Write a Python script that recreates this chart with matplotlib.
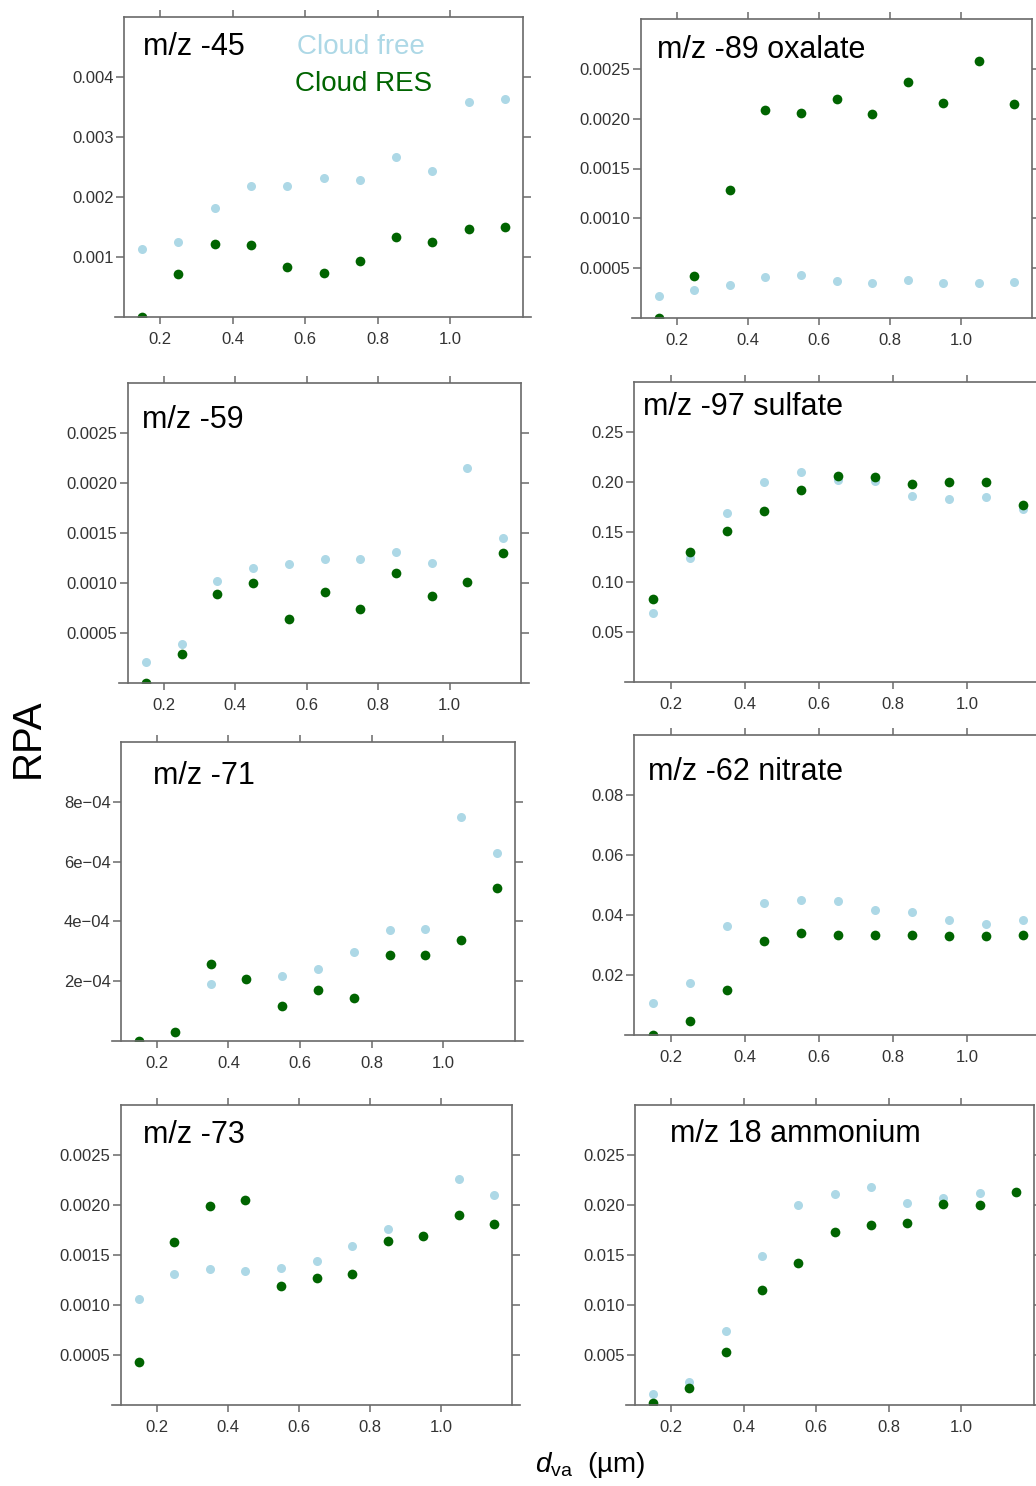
import numpy as np
import matplotlib
matplotlib.use("Agg")
import matplotlib.pyplot as plt

plt.rcParams["font.family"] = ["Liberation Sans", "DejaVu Sans"]
plt.rcParams["mathtext.fontset"] = "custom"
plt.rcParams["mathtext.rm"] = "Liberation Sans"
plt.rcParams["mathtext.it"] = "Liberation Sans:italic"

# size bins (dva, um)
dva = [0.15, 0.25, 0.35, 0.45, 0.55, 0.65, 0.75, 0.85, 0.95, 1.05, 1.15]

titles = ["m/z -45", "m/z -89 oxalate", "m/z -59", "m/z -97 sulfate",
          "m/z -71", "m/z -62 nitrate", "m/z -73", "m/z 18 ammonium"]

free_45 = [0.00113, 0.00125, 0.00182, 0.00218, 0.00218, 0.00231, 0.00228, 0.00266, 0.00243, 0.00359, 0.00364]
res_45 = [0.0, 0.00071, 0.00122, 0.00120, 0.00084, 0.00074, 0.00093, 0.00134, 0.00125, 0.00146, 0.00150]

free_89 = [0.00022, 0.00028, 0.00033, 0.00041, 0.00043, 0.00037, 0.00035, 0.00038, 0.00035, 0.00035, 0.00036]
res_89 = [0.0, 0.00042, 0.00128, 0.00209, 0.00206, 0.00220, 0.00205, 0.00237, 0.00216, 0.00258, 0.00215]

free_59 = [0.00021, 0.00039, 0.00102, 0.00115, 0.00119, 0.00124, 0.00124, 0.00131, 0.00120, 0.00215, 0.00145]
res_59 = [0.0, 0.00029, 0.00089, 0.00100, 0.00064, 0.00091, 0.00074, 0.00110, 0.00087, 0.00101, 0.00130]

free_97 = [0.069, 0.124, 0.169, 0.200, 0.210, 0.202, 0.201, 0.186, 0.183, 0.185, 0.173]
res_97 = [0.083, 0.130, 0.151, 0.171, 0.192, 0.206, 0.205, 0.198, 0.200, 0.200, 0.177]

free_71 = [0.0, 0.000029, 0.000189, 0.000208, 0.000217, 0.000240, 0.000299, 0.000372, 0.000375, 0.000748, 0.000629]
res_71 = [0.0, 0.000029, 0.000257, 0.000208, 0.000116, 0.000169, 0.000143, 0.000287, 0.000287, 0.000339, 0.000512]

free_62 = [0.0107, 0.0175, 0.0363, 0.0440, 0.0449, 0.0447, 0.0416, 0.0410, 0.0383, 0.0369, 0.0384]
res_62 = [0.0, 0.0046, 0.0149, 0.0315, 0.0340, 0.0334, 0.0334, 0.0335, 0.0330, 0.0329, 0.0335]

free_73 = [0.00106, 0.00131, 0.00136, 0.00134, 0.00137, 0.00144, 0.00159, 0.00176, 0.00169, 0.00226, 0.00210]
res_73 = [0.00043, 0.00163, 0.00199, 0.00205, 0.00119, 0.00127, 0.00131, 0.00164, 0.00169, 0.00190, 0.00181]

free_18 = [0.00107, 0.0023, 0.00737, 0.0149, 0.0200, 0.0211, 0.0218, 0.0202, 0.0207, 0.0212, 0.0213]
res_18 = [0.00017, 0.00167, 0.00533, 0.01153, 0.0142, 0.01727, 0.01803, 0.01817, 0.02007, 0.02003, 0.02133]

free_all = [free_45, free_89, free_59, free_97, free_71, free_62, free_73, free_18]
res_all = [res_45, res_89, res_59, res_97, res_71, res_62, res_73, res_18]

y_tops = [0.005, 0.003, 0.003, 0.30, 0.001, 0.10, 0.003, 0.030]
y_ticks = [
    [0.001, 0.002, 0.003, 0.004],
    [0.0005, 0.001, 0.0015, 0.002, 0.0025],
    [0.0005, 0.001, 0.0015, 0.002, 0.0025],
    [0.05, 0.10, 0.15, 0.20, 0.25],
    [2e-4, 4e-4, 6e-4, 8e-4],
    [0.02, 0.04, 0.06, 0.08],
    [0.0005, 0.001, 0.0015, 0.002, 0.0025],
    [0.005, 0.010, 0.015, 0.020, 0.025],
]
y_labels = [
    ["0.001", "0.002", "0.003", "0.004"],
    ["0.0005", "0.0010", "0.0015", "0.0020", "0.0025"],
    ["0.0005", "0.0010", "0.0015", "0.0020", "0.0025"],
    ["0.05", "0.10", "0.15", "0.20", "0.25"],
    ["2e\u221204", "4e\u221204", "6e\u221204", "8e\u221204"],
    ["0.02", "0.04", "0.06", "0.08"],
    ["0.0005", "0.0010", "0.0015", "0.0020", "0.0025"],
    ["0.005", "0.010", "0.015", "0.020", "0.025"],
]
x_ticks = [0.2, 0.4, 0.6, 0.8, 1.0]
x_labels = ["0.2", "0.4", "0.6", "0.8", "1.0"]

W, H = 1036, 1486
# panel frames in pixels: left, top, right, bottom
frames = [(124, 17, 523, 317), (641, 19, 1032, 318),
          (128, 383, 521, 683), (634, 382, 1041, 682),
          (121, 742, 515, 1041), (634, 735, 1041, 1035),
          (121, 1105, 512, 1405), (635, 1105, 1034, 1405)]
title_pos = [(0.048, 0.90), (0.041, 0.896), (0.035, 0.877), (0.021, 0.916),
             (0.080, 0.886), (0.035, 0.878), (0.055, 0.90), (0.088, 0.903)]

c_free = "#add8e6"
c_res = "#006400"
frame_col = "#6a6a6a"

fig = plt.figure(figsize=(W / 100, H / 100), dpi=100)

for i in range(8):
    l, t, r, b = frames[i]
    ax = fig.add_axes([l / W, 1 - b / H, (r - l) / W, (b - t) / H])
    ax.plot(dva, free_all[i], "o", color=c_free, ms=6.5, mec="none")
    ax.plot(dva, res_all[i], "o", color=c_res, ms=7, mec="none")
    ax.set_xlim(0.1, 1.2)
    ax.set_ylim(0, y_tops[i])

    ax.set_xticks(x_ticks)
    ax.set_xticklabels(x_labels)
    ax.set_yticks(y_ticks[i])
    ax.set_yticklabels(y_labels[i])
    ax.tick_params(axis="x", which="both", direction="out", length=5, width=1.1,
                   color=frame_col, top=True, bottom=True, labelsize=12,
                   labelcolor="#333333", pad=6)
    ax.tick_params(axis="y", which="both", direction="out", length=6, width=1.1,
                   color=frame_col, left=True, right=True, labelsize=12,
                   labelcolor="#333333", pad=1.5)
    for side in ["left", "top", "right"]:
        ax.spines[side].set_color(frame_col)
        ax.spines[side].set_linewidth(1.2)
    ax.spines["bottom"].set_visible(False)
    ax.plot([-0.022, 1.02], [0, 0], transform=ax.transAxes, color=frame_col,
            lw=1.2, clip_on=False)

    ax.text(title_pos[i][0], title_pos[i][1], titles[i], transform=ax.transAxes,
            fontsize=22, ha="left", va="center", color="black")

    if i == 0:
        ax.text(0.434, 0.90, "Cloud free", transform=ax.transAxes, fontsize=20,
                color=c_free, ha="left", va="center")
        ax.text(0.429, 0.777, "Cloud RES", transform=ax.transAxes, fontsize=20,
                color=c_res, ha="left", va="center")

fig.text(28 / W, 1 - 738 / H, "RPA", rotation=90, fontsize=29,
         ha="center", va="center")
fig.text(590 / W, 1 - 1465 / H, r"$d_{\mathrm{va}}$  (µm)", fontsize=20,
         ha="center", va="center")

fig.savefig("out.png", dpi=100)
